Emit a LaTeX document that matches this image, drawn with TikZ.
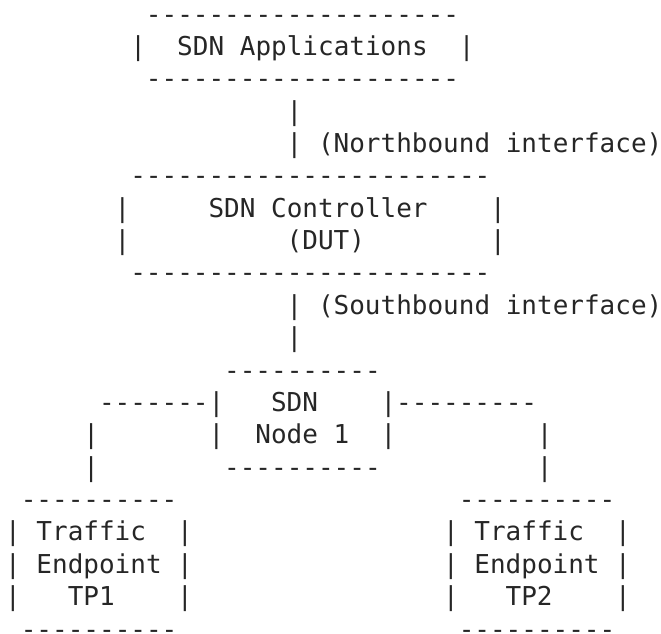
\documentclass[tikz,border=0pt]{standalone}
\usepackage{fontspec}
\setmonofont{DejaVu Sans Mono}
\usepackage{tikz}
\tikzset{ asc/.style = { anchor = base west % one run of ascii text
        , inner sep = 0pt
        , outer sep = 0pt
        , text = black!85
        , font = \ttfamily\fontsize{26}{32}\selectfont
        }
        }

\begin{document}
\begin{tikzpicture}[x=15.64pt, y=-32.37pt]
        \useasboundingbox (-5.2pt,23pt) rectangle (655.8pt,-610pt);

        % applications box
        \node [asc] (appTop) at (9,0) {--------------------};
        \node [asc] (appL) at (8,1) {|};
        \node [asc] (app) at (11,1) {SDN Applications};
        \node [asc] (appR) at (29,1) {|};
        \node [asc] (appBot) at (9,2) {--------------------};

        % northbound link
        \node [asc] (nb1) at (18,3) {|};
        \node [asc] (nb2) at (18,4) {|};
        \node [asc] (nbLabel) at (20,4) {(Northbound interface)};

        % controller box
        \node [asc] (ctlTop) at (8,5) {-----------------------};
        \node [asc] (ctlL1) at (7,6) {|};
        \node [asc] (ctl) at (13,6) {SDN Controller};
        \node [asc] (ctlR1) at (31,6) {|};
        \node [asc] (ctlL2) at (7,7) {|};
        \node [asc] (dut) at (18,7) {(DUT)};
        \node [asc] (ctlR2) at (31,7) {|};
        \node [asc] (ctlBot) at (8,8) {-----------------------};

        % southbound link
        \node [asc] (sb1) at (18,9) {|};
        \node [asc] (sbLabel) at (20,9) {(Southbound interface)};
        \node [asc] (sb2) at (18,10) {|};

        % sdn node box and its two legs
        \node [asc] (swTop) at (14,11) {----------};
        \node [asc] (legL) at (6,12) {-------|};
        \node [asc] (sw1) at (17,12) {SDN};
        \node [asc] (legR) at (24,12) {|---------};
        \node [asc] (legL1) at (5,13) {|};
        \node [asc] (swL) at (13,13) {|};
        \node [asc] (sw2) at (16,13) {Node 1};
        \node [asc] (swR) at (24,13) {|};
        \node [asc] (legR1) at (34,13) {|};
        \node [asc] (legL2) at (5,14) {|};
        \node [asc] (swBot) at (14,14) {----------};
        \node [asc] (legR2) at (34,14) {|};

        % traffic endpoint TP1
        \node [asc] (tp1Top) at (1,15) {----------};
        \node [asc] (tp1L1) at (0,16) {|};
        \node [asc] (tp1a) at (2,16) {Traffic};
        \node [asc] (tp1R1) at (11,16) {|};
        \node [asc] (tp1L2) at (0,17) {|};
        \node [asc] (tp1b) at (2,17) {Endpoint};
        \node [asc] (tp1R2) at (11,17) {|};
        \node [asc] (tp1L3) at (0,18) {|};
        \node [asc] (tp1c) at (4,18) {TP1};
        \node [asc] (tp1R3) at (11,18) {|};
        \node [asc] (tp1Bot) at (1,19) {----------};

        % traffic endpoint TP2
        \node [asc] (tp2Top) at (29,15) {----------};
        \node [asc] (tp2L1) at (28,16) {|};
        \node [asc] (tp2a) at (30,16) {Traffic};
        \node [asc] (tp2R1) at (39,16) {|};
        \node [asc] (tp2L2) at (28,17) {|};
        \node [asc] (tp2b) at (30,17) {Endpoint};
        \node [asc] (tp2R2) at (39,17) {|};
        \node [asc] (tp2L3) at (28,18) {|};
        \node [asc] (tp2c) at (32,18) {TP2};
        \node [asc] (tp2R3) at (39,18) {|};
        \node [asc] (tp2Bot) at (29,19) {----------};
\end{tikzpicture}
\end{document}
